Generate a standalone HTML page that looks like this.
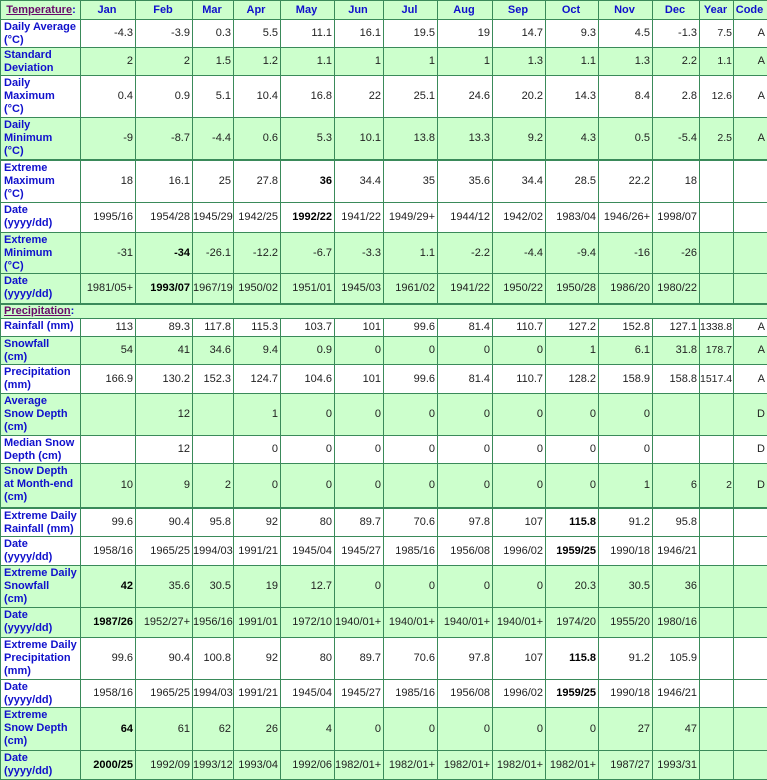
<!DOCTYPE html>
<html><head><meta charset="utf-8"><style>
html,body{margin:0;padding:0;background:#fff;width:767px;height:780px;overflow:hidden}
table{border-collapse:collapse;table-layout:fixed;width:767px;font-family:"Liberation Sans",sans-serif;font-size:11px;color:#222}
td{border:1px solid #3a8a5a;padding:0 2px 0 0;text-align:right;vertical-align:middle;overflow:hidden;white-space:nowrap;box-sizing:border-box;line-height:13px}
td.l{text-align:left;vertical-align:top;color:#1010cc;font-weight:bold;padding:1px 0 0 3px}
tr.g td{background:#ccffcc}
tr.h td{text-align:center;color:#1010cc;font-weight:bold;background:#ccffcc}
tr.t td{border-top:2px solid #3a8a5a}
.sec{color:#6a0a6a;text-decoration:underline;font-weight:bold}
td.s{text-align:left;color:#000;font-weight:normal;background:#ccffcc}
td.y{font-size:10.5px;padding-right:1px}
b{color:#000}
</style></head><body>
<table>
<colgroup><col style="width:80px"><col style="width:55px"><col style="width:57px"><col style="width:41px"><col style="width:47px"><col style="width:54px"><col style="width:49px"><col style="width:54px"><col style="width:55px"><col style="width:53px"><col style="width:53px"><col style="width:54px"><col style="width:47px"><col style="width:34px"><col style="width:34px"></colgroup>
<tr class="h" style="height:19px"><td class="s" style="padding-left:3px"><span class="sec">Temperature</span><span style="color:#1010cc;font-weight:bold">:</span></td><td>Jan</td><td>Feb</td><td>Mar</td><td>Apr</td><td>May</td><td>Jun</td><td>Jul</td><td>Aug</td><td>Sep</td><td>Oct</td><td>Nov</td><td>Dec</td><td>Year</td><td>Code</td></tr>
<tr style="height:28px"><td class="l">Daily Average<br>(°C)</td><td>-4.3</td><td>-3.9</td><td>0.3</td><td>5.5</td><td>11.1</td><td>16.1</td><td>19.5</td><td>19</td><td>14.7</td><td>9.3</td><td>4.5</td><td>-1.3</td><td class="y">7.5</td><td>A</td></tr>
<tr class="g" style="height:28px"><td class="l">Standard<br>Deviation</td><td>2</td><td>2</td><td>1.5</td><td>1.2</td><td>1.1</td><td>1</td><td>1</td><td>1</td><td>1.3</td><td>1.1</td><td>1.3</td><td>2.2</td><td class="y">1.1</td><td>A</td></tr>
<tr style="height:42px"><td class="l">Daily<br>Maximum<br>(°C)</td><td>0.4</td><td>0.9</td><td>5.1</td><td>10.4</td><td>16.8</td><td>22</td><td>25.1</td><td>24.6</td><td>20.2</td><td>14.3</td><td>8.4</td><td>2.8</td><td class="y">12.6</td><td>A</td></tr>
<tr class="g" style="height:42px"><td class="l">Daily<br>Minimum<br>(°C)</td><td>-9</td><td>-8.7</td><td>-4.4</td><td>0.6</td><td>5.3</td><td>10.1</td><td>13.8</td><td>13.3</td><td>9.2</td><td>4.3</td><td>0.5</td><td>-5.4</td><td class="y">2.5</td><td>A</td></tr>
<tr class="t" style="height:43px"><td class="l">Extreme<br>Maximum<br>(°C)</td><td>18</td><td>16.1</td><td>25</td><td>27.8</td><td><b>36</b></td><td>34.4</td><td>35</td><td>35.6</td><td>34.4</td><td>28.5</td><td>22.2</td><td>18</td><td></td><td></td></tr>
<tr style="height:30px"><td class="l">Date<br>(yyyy/dd)</td><td>1995/16</td><td>1954/28</td><td>1945/29</td><td>1942/25</td><td><b>1992/22</b></td><td>1941/22</td><td>1949/29+</td><td>1944/12</td><td>1942/02</td><td>1983/04</td><td>1946/26+</td><td>1998/07</td><td></td><td></td></tr>
<tr class="g" style="height:41px"><td class="l">Extreme<br>Minimum<br>(°C)</td><td>-31</td><td><b>-34</b></td><td>-26.1</td><td>-12.2</td><td>-6.7</td><td>-3.3</td><td>1.1</td><td>-2.2</td><td>-4.4</td><td>-9.4</td><td>-16</td><td>-26</td><td></td><td></td></tr>
<tr class="g" style="height:30px"><td class="l">Date<br>(yyyy/dd)</td><td>1981/05+</td><td><b>1993/07</b></td><td>1967/19</td><td>1950/02</td><td>1951/01</td><td>1945/03</td><td>1961/02</td><td>1941/22</td><td>1950/22</td><td>1950/28</td><td>1986/20</td><td>1980/22</td><td></td><td></td></tr>
<tr class="t" style="height:15px"><td class="s" colspan="15" style="padding-left:3px;line-height:12px"><span class="sec">Precipitation</span><span style="color:#1010cc;font-weight:bold">:</span></td></tr>
<tr style="height:18px"><td class="l">Rainfall (mm)</td><td>113</td><td>89.3</td><td>117.8</td><td>115.3</td><td>103.7</td><td>101</td><td>99.6</td><td>81.4</td><td>110.7</td><td>127.2</td><td>152.8</td><td>127.1</td><td class="y">1338.8</td><td>A</td></tr>
<tr class="g" style="height:28px"><td class="l">Snowfall<br>(cm)</td><td>54</td><td>41</td><td>34.6</td><td>9.4</td><td>0.9</td><td>0</td><td>0</td><td>0</td><td>0</td><td>1</td><td>6.1</td><td>31.8</td><td class="y">178.7</td><td>A</td></tr>
<tr style="height:29px"><td class="l">Precipitation<br>(mm)</td><td>166.9</td><td>130.2</td><td>152.3</td><td>124.7</td><td>104.6</td><td>101</td><td>99.6</td><td>81.4</td><td>110.7</td><td>128.2</td><td>158.9</td><td>158.8</td><td class="y">1517.4</td><td>A</td></tr>
<tr class="g" style="height:42px"><td class="l">Average<br>Snow Depth<br>(cm)</td><td></td><td>12</td><td></td><td>1</td><td>0</td><td>0</td><td>0</td><td>0</td><td>0</td><td>0</td><td>0</td><td></td><td></td><td>D</td></tr>
<tr style="height:28px"><td class="l">Median Snow<br>Depth (cm)</td><td></td><td>12</td><td></td><td>0</td><td>0</td><td>0</td><td>0</td><td>0</td><td>0</td><td>0</td><td>0</td><td></td><td></td><td>D</td></tr>
<tr class="g" style="height:44px"><td class="l">Snow Depth<br>at Month-end<br>(cm)</td><td>10</td><td>9</td><td>2</td><td>0</td><td>0</td><td>0</td><td>0</td><td>0</td><td>0</td><td>0</td><td>1</td><td>6</td><td class="y">2</td><td>D</td></tr>
<tr class="t" style="height:29px"><td class="l">Extreme Daily<br>Rainfall (mm)</td><td>99.6</td><td>90.4</td><td>95.8</td><td>92</td><td>80</td><td>89.7</td><td>70.6</td><td>97.8</td><td>107</td><td><b>115.8</b></td><td>91.2</td><td>95.8</td><td></td><td></td></tr>
<tr style="height:29px"><td class="l">Date<br>(yyyy/dd)</td><td>1958/16</td><td>1965/25</td><td>1994/03</td><td>1991/21</td><td>1945/04</td><td>1945/27</td><td>1985/16</td><td>1956/08</td><td>1996/02</td><td><b>1959/25</b></td><td>1990/18</td><td>1946/21</td><td></td><td></td></tr>
<tr class="g" style="height:42px"><td class="l">Extreme Daily<br>Snowfall<br>(cm)</td><td><b>42</b></td><td>35.6</td><td>30.5</td><td>19</td><td>12.7</td><td>0</td><td>0</td><td>0</td><td>0</td><td>20.3</td><td>30.5</td><td>36</td><td></td><td></td></tr>
<tr class="g" style="height:30px"><td class="l">Date<br>(yyyy/dd)</td><td><b>1987/26</b></td><td>1952/27+</td><td>1956/16</td><td>1991/01</td><td>1972/10</td><td>1940/01+</td><td>1940/01+</td><td>1940/01+</td><td>1940/01+</td><td>1974/20</td><td>1955/20</td><td>1980/16</td><td></td><td></td></tr>
<tr style="height:42px"><td class="l">Extreme Daily<br>Precipitation<br>(mm)</td><td>99.6</td><td>90.4</td><td>100.8</td><td>92</td><td>80</td><td>89.7</td><td>70.6</td><td>97.8</td><td>107</td><td><b>115.8</b></td><td>91.2</td><td>105.9</td><td></td><td></td></tr>
<tr style="height:28px"><td class="l">Date<br>(yyyy/dd)</td><td>1958/16</td><td>1965/25</td><td>1994/03</td><td>1991/21</td><td>1945/04</td><td>1945/27</td><td>1985/16</td><td>1956/08</td><td>1996/02</td><td><b>1959/25</b></td><td>1990/18</td><td>1946/21</td><td></td><td></td></tr>
<tr class="g" style="height:43px"><td class="l">Extreme<br>Snow Depth<br>(cm)</td><td><b>64</b></td><td>61</td><td>62</td><td>26</td><td>4</td><td>0</td><td>0</td><td>0</td><td>0</td><td>0</td><td>27</td><td>47</td><td></td><td></td></tr>
<tr class="g" style="height:29px"><td class="l">Date<br>(yyyy/dd)</td><td><b>2000/25</b></td><td>1992/09</td><td>1993/12</td><td>1993/04</td><td>1992/06</td><td>1982/01+</td><td>1982/01+</td><td>1982/01+</td><td>1982/01+</td><td>1982/01+</td><td>1987/27</td><td>1993/31</td><td></td><td></td></tr>
</table>
</body></html>
